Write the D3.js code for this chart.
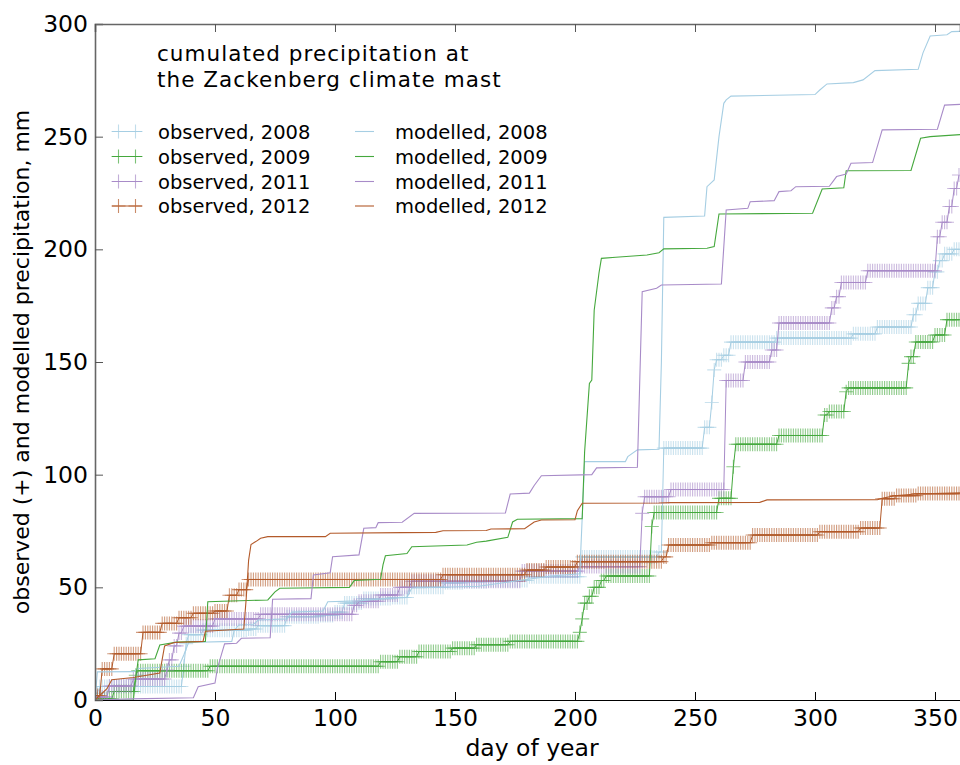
<!DOCTYPE html>
<html><head><meta charset="utf-8">
<script src="https://cdn.jsdelivr.net/npm/d3@7"></script>
<style>body{margin:0;background:#fff}svg{display:block;font-family:"DejaVu Sans",sans-serif}</style>
</head><body><svg id="c" width="960" height="765"></svg>
<script>
const xTicks=[0,50,100,150,200,250,300,350];
const yTicks=[0,50,100,150,200,250,300];
const years=["2008","2009","2011","2012"];
const colors=["#a6cee3","#45a83d","#a88bc8","#b35a2a"];
const titleLines=["cumulated precipitation at","the Zackenberg climate mast"];

// observed daily cumulated precipitation (mm), index = day of year
const obs2008=[
3,3,6,6,6,6,6,6,6,6,
6,6,6,6,6,6,6,6,6,6,
6,6,6,6,6,6,6,6,6,6,
6,6,6,6,6,6,6,15,25,29,
29,29,29,29,29,31,31,31,31,31,
31,31,31,31,31,31,31,31,31,31,
31,31,31,31,31.5,31.5,31.5,31.5,33,33,
33,33,33,33,33,33,33,33,33,33,
37,37,37,37,37,37,37,37,37,37,
37,37,37,37,37.5,37.5,37.5,37.5,37.5,37.5,
39,39,39,39,43,43,43,43,43,43,
43,43,45,45,45,45,45,45,45,45,
45,45,45,45,45.5,45.5,45.5,45.5,45.5,45.5,
45.5,50,50,50,50,50,50,50,50,50,
50,50,50,50,50,50,52,52,52,52,
52,52,52,52,52.5,52.5,52.5,52.5,52.5,52.5,
52.5,52.5,52.5,52.5,53,53,53,53,53,53,
53,53,53,53,53,53,53,53,53,53,
53,54.7,54.7,54.7,54.7,54.7,54.7,54.7,54.7,54.7,
54.7,54.7,54.7,54.7,54.7,54.7,54.7,54.7,54.7,54.7,
54.7,54.7,54.7,63.5,63.5,63.5,63.5,63.5,63.5,63.5,
63.5,63.5,63.5,63.5,63.5,63.5,63.5,63.5,63.5,63.5,
63.5,63.5,63.5,63.5,63.5,63.5,63.5,63.5,63.5,63.5,
63.5,63.5,63.5,63.5,63.5,65.7,65.7,111.8,111.8,111.8,
111.8,111.8,111.8,111.8,111.8,111.8,111.8,111.8,111.8,111.8,
111.8,111.8,111.8,111.8,121,121,121,132,146.5,151,
151,151,153,153,153,158.8,158.8,158.8,158.8,158.8,
158.8,158.8,158.8,158.8,158.8,158.8,158.8,158.8,158.8,158.8,
158.8,158.8,158.8,158.8,160.6,160.6,160.6,160.6,160.6,160.6,
160.6,160.6,160.6,160.6,160.6,160.6,160.6,160.6,160.6,160.6,
160.6,160.6,160.6,160.6,160.6,160.6,160.6,160.6,160.6,160.6,
160.6,160.6,160.6,160.6,160.6,160.6,162.5,162.5,162.5,162.5,
162.5,162.5,162.5,162.5,162.5,162.5,165.5,165.5,165.5,165.5,
165.5,165.5,165.5,165.5,165.5,165.5,165.5,165.5,165.5,165.5,
165.5,171,171,176,176,176,176,183,183,183,
190,190,195,195,198,198,198,198,200,200,
200];
const obs2009=[
0.5,0.5,0.5,0.5,0.5,0.5,0.5,0.5,3.8,3.8,
3.8,3.8,3.8,3.8,3.8,3.8,3.8,11,13,13,
13,13,13,13,13,13,13,13,13,13,
13,13,13,13,13,13,13,13,13,13,
13,13,13,13,13,13,13,13,15,15,
15,15,15,15,15,15,15,15,15,15,
15,15,15,15,15,15,15,15,15,15,
15,15,15,15,15,15,15,15,15,15,
15,15,15,15,15,15,15,15,15,15,
15,15,15,15,15,15,15,15,15,15,
15,15,15,15,15,15,15,15,15,15,
15,15,15,15,15,15,15,15,15,17,
17,17,17,17,17,17,17,19.2,19.2,19.2,
19.2,19.2,19.2,19.2,19.2,21.5,21.5,21.5,21.5,21.5,
21.5,21.5,21.5,21.5,21.5,21.5,21.5,21.5,21.5,23,
23,23,23,23,23,23,23,23,23,24.5,
24.5,24.5,24.5,24.5,24.5,24.5,24.5,24.5,24.5,24.5,
24.5,24.5,24.5,26,26,26,26,26,26,26,
26,26,26,26,26,26,26,26,26,26,
26,26,26,26,26,26,26,26,26,26,
26,26,30,36,43,43,46,46,50,50,
50,53,53,55,55,55,55,55,55,55,
55,55,55,55,55,55,55,55,55,55,
55,55,77,83.2,83.2,83.2,83.2,83.2,83.2,83.2,
83.2,83.2,83.2,83.2,83.2,83.2,83.2,83.2,83.2,83.2,
83.2,83.2,83.2,83.2,83.2,83.2,83.2,83.2,83.2,83.2,
89.5,89.5,89.5,89.5,89.5,89.5,103.5,113.5,113.5,113.5,
113.5,113.5,113.5,113.5,113.5,113.5,113.5,113.5,113.5,113.5,
113.5,113.5,113.5,113.5,113.5,117.4,117.4,117.4,117.4,117.4,
117.4,117.4,117.4,117.4,117.4,117.4,117.4,117.4,117.4,117.4,
117.4,117.4,117.4,117.4,126.5,126.5,128,128,128,128,
128,128,128,136.8,138.5,138.5,138.5,138.5,138.5,138.5,
138.5,138.5,138.5,138.5,138.5,138.5,138.5,138.5,138.5,138.5,
138.5,138.5,138.5,138.5,138.5,138.5,138.5,138.5,138.5,149.4,
152.4,152.4,158.9,158.9,158.9,158.9,158.9,158.9,158.9,158.9,
162,162,162,162,162,168.8,168.8,168.8,168.8,168.8,
168.8];
const obs2011=[
1.3,1.3,1.3,1.3,1.3,1.3,6.2,6.2,6.2,6.2,
6.2,6.2,6.2,6.2,6.2,6.2,9.3,9.3,9.3,9.3,
9.3,9.3,9.3,9.3,9.3,9.3,9.3,9.3,9.3,9.3,
13.3,17.8,17.8,24,24,29.7,29.7,32.8,32.8,32.8,
32.8,32.8,32.8,32.8,32.8,32.8,32.8,32.8,32.8,32.8,
36,36,36,36,36,36,36,36,36,36,
36,36,36,36,36,36,36,36,36,38,
38,38,38,38,38,38,38,38,38,38,
38,38,38,38,38,38,38,38,38,38,
38,38,38,38,38,38,38,38,38,38,
38,38,38,38,38,38,38,38,42,42,
43.8,43.8,43.8,43.8,43.8,43.8,43.8,43.8,43.8,46.6,
46.6,46.6,46.6,46.6,46.6,46.6,46.6,50,50,50,
50,50,52.7,52.7,52.7,52.7,52.7,52.7,52.7,52.7,
52.7,52.7,52.7,52.7,52.7,52.7,52.7,52.7,52.7,52.7,
52.7,52.7,52.7,52.7,52.7,52.7,52.7,52.7,52.7,52.7,
52.7,52.7,52.7,52.7,52.7,52.7,52.7,52.7,52.7,52.7,
52.7,52.7,52.7,52.7,52.7,52.7,52.7,52.7,57.2,57.2,
57.2,57.2,57.2,57.2,57.2,57.2,57.2,57.2,57.2,57.2,
57.2,57.2,57.2,57.2,57.2,57.2,57.2,57.2,57.2,57.2,
57.2,57.2,59.2,59.2,59.2,59.2,59.2,59.2,59.2,59.2,
59.2,59.2,59.2,59.2,59.2,59.2,59.2,59.2,59.2,59.2,
59.2,59.2,59.2,59.2,59.2,59.2,59.2,59.2,82.8,90.2,
90.2,90.2,90.2,90.2,90.2,90.2,90.2,90.2,90.2,90.2,
93.4,93.4,93.4,93.4,93.4,93.4,93.4,93.4,93.4,93.4,
93.4,93.4,93.4,93.4,93.4,93.4,93.4,93.4,93.4,93.4,
93.4,93.4,93.4,141.8,141.8,141.8,141.8,141.8,141.8,141.8,
141.8,150,150,150,150,150,150,150,150,150,
150,150,155.3,155.3,155.3,167.3,167.3,167.3,167.3,167.3,
167.3,167.3,167.3,167.3,167.3,167.3,167.3,167.3,167.3,167.3,
167.3,167.3,167.3,167.3,167.3,167.3,167.3,174,174,179,
179,185.3,185.3,185.3,185.3,185.3,185.3,185.3,185.3,185.3,
185.3,185.3,190.5,190.5,190.5,190.5,190.5,190.5,190.5,190.5,
190.5,190.5,190.5,190.5,190.5,190.5,190.5,190.5,190.5,190.5,
190.5,190.5,190.5,190.5,190.5,190.5,190.5,190.5,190.5,190.5,
190.5,205.6,205.6,212,212,212,219,219,227,227,
233];
const obs2012=[
2,2,2,13.8,13.8,13.8,13.8,13.8,20.5,20.5,
20.5,20.5,20.5,20.5,20.5,20.5,20.5,20.5,20.5,20.5,
30,30,30,30,30,30,30,30,34,34,
34,34,34,34,34,36.5,36.5,36.5,36.5,36.5,
36.5,38.5,38.5,38.5,38.5,38.5,38.5,38.5,38.5,38.5,
39.5,39.5,39.5,39.5,39.5,39.5,46.5,46.5,46.5,46.5,
49,49,49,49,53.5,53.5,53.5,53.5,53.5,53.5,
53.5,53.5,53.5,53.5,53.5,53.5,53.5,53.5,53.5,53.5,
53.5,53.5,53.5,53.5,53.5,53.5,53.5,53.5,53.5,53.5,
53.5,53.5,53.5,53.5,53.5,53.5,53.5,53.5,53.5,53.5,
53.5,53.5,53.5,53.5,53.5,53.5,53.5,53.5,53.5,53.5,
53.5,53.5,53.5,53.5,53.5,53.5,53.5,53.5,53.5,53.5,
53.5,53.5,53.5,53.5,53.5,53.5,53.5,53.5,53.5,53.5,
53.5,53.5,53.5,53.5,53.5,53.5,53.5,53.5,53.5,53.5,
53.5,53.5,53.5,53.5,53.5,55.6,55.6,55.6,55.6,55.6,
55.6,55.6,55.6,55.6,55.6,55.6,55.6,55.6,55.6,55.6,
55.6,55.6,55.6,55.6,55.6,55.6,55.6,55.6,55.6,55.6,
55.6,55.6,55.6,55.6,55.6,55.6,55.6,55.6,55.6,55.6,
57.7,57.7,57.7,57.7,57.7,57.7,57.7,57.7,59,59,
59,59,59,59,59,59,59,59,59,59,
59,61.4,61.4,61.4,61.4,61.4,61.4,61.4,61.4,61.4,
61.4,61.4,61.4,61.4,61.4,61.4,61.4,61.4,61.4,61.4,
61.4,61.4,61.4,61.4,61.4,61.4,61.4,61.4,61.4,61.4,
61.4,61.4,61.4,61.4,61.4,61.4,61.4,63.5,63.5,68.8,
68.8,68.8,68.8,68.8,68.8,68.8,68.8,68.8,68.8,68.8,
68.8,68.8,68.8,68.8,68.8,68.8,68.8,69.8,69.8,69.8,
69.8,69.8,69.8,69.8,69.8,69.8,69.8,69.8,69.8,69.8,
69.8,69.8,69.8,69.8,73.2,73.2,73.2,73.2,73.2,73.2,
73.2,73.2,73.2,73.2,73.2,73.2,73.2,73.2,73.2,73.2,
73.2,73.2,73.2,73.2,73.2,73.2,73.2,73.2,73.2,73.2,
73.2,73.2,74.7,74.7,74.7,74.7,74.7,74.7,74.7,74.7,
74.7,74.7,74.7,74.7,74.7,74.7,74.7,74.7,74.7,76.3,
76.3,76.3,76.3,76.3,76.3,76.3,76.3,76.3,89.3,89.3,
89.3,89.3,89.3,89.3,90.7,90.7,90.7,90.7,90.7,90.7,
90.7,90.7,90.7,91.6,91.6,91.6,91.6,91.6,91.6,91.6,
91.6,91.6,91.6,91.6,91.6,91.6,91.6,91.6,91.6,91.6,
91.6];

// modelled cumulated precipitation: [day, mm]
const mod2008=[[0,0],[1,12.5],[16,12.6],[18,14],[35,15],[37,20],[39,25.5],[57,26],[58,31],[60,33.3],[66,33.5],[68,35.5],[80,36],[82,39],[95,39.5],[97,43.6],[110,44],[120,45],[130,45.5],[132,49.7],[160,50.5],[170,52],[190,55],[202,56],[204,105.8],[221,105.8],[222,108],[226,111],[235,111.3],[236,150],[237,214.2],[254,214.8],[255,227.8],[258,230.8],[260,250],[262,264.8],[263,266.3],[265,268],[300,268.7],[302,270.7],[305,273.4],[316,274],[320,275.2],[325,279.3],[343,279.9],[345,287.2],[348,294.7],[355,295.2],[357,296.6],[362,296.8]];
const mod2009=[[0,0],[16,0],[17,10],[18,17.8],[25,18.3],[27,24.4],[34,25.7],[46,26],[47,43.6],[72,44.4],[75,48],[77,49.6],[106,50],[108,53],[119,53.6],[120,60],[121,64],[130,65],[132,68],[155,68.8],[159,70],[163,70.5],[172,72.2],[174,79],[176,80.2],[203,80.5],[204,110],[206,140.5],[207,142],[208,173],[210,189.5],[211,196],[217,196.5],[230,197.5],[235,198.5],[237,200.2],[255,200.5],[258,201.2],[260,215.7],[299,216],[303,226.8],[312,227.3],[313,234.9],[340,235],[344,249.3],[348,250],[362,251]];
const mod2011=[[0,0],[15,0.5],[41,1],[43,5.9],[50,7.5],[51,14],[53,21.4],[54,24.9],[59,25.2],[61,27.4],[73,27.6],[74,44.7],[90,45],[91,55.5],[98,56.5],[99,63.6],[110,64.4],[112,76.2],[117,76.5],[118,78.7],[128,78.9],[133,82.8],[171,83],[173,91.4],[181,91.8],[183,95.2],[186,99.5],[207,100],[209,103],[226,103.3],[228,181.2],[234,182.7],[236,184.2],[261,184.6],[263,217.5],[272,218.2],[273,221.1],[283,221.6],[285,225.6],[290,226],[292,227.8],[306,228],[309,232.3],[313,233.4],[315,238.2],[324,238.5],[328,253],[351,253.3],[354,264],[362,264.4]];
const mod2012=[[0,0],[1,1],[5,5],[7,9],[16,10],[27,12],[28,18],[29,24],[33,25.5],[45,26],[46,30.5],[62,31.5],[63,45],[64,62],[65,69],[67,70.3],[69,71.8],[72,72.5],[96,72.5],[98,74],[128,74.3],[142,74.4],[145,75.1],[163,75.2],[165,75.9],[179,76],[183,79],[186,79.9],[200,80],[201,84],[203,87.3],[235,87.4],[240,87.6],[277,87.7],[280,88.8],[326,88.9],[328,89.5],[333,90.6],[342,91.4],[362,92]];

const observed=[obs2008,obs2009,obs2011,obs2012];
const modelled=[mod2008,mod2009,mod2011,mod2012];

const L=95,T=24,R=960,B=700;
const x=d3.scaleLinear().domain([0,360.42]).range([L,R]);
const y=d3.scaleLinear().domain([0,300]).range([B,T]);
const svg=d3.select("#c");

svg.append("defs").append("clipPath").attr("id","clip")
  .append("rect").attr("x",L).attr("y",T).attr("width",R-L).attr("height",B-T);

const plot=svg.append("g").attr("clip-path","url(#clip)");
const line=d3.line().x(d=>x(d[0])).y(d=>y(d[1]));
const ms=7;
function plus(cx,cy){return `M${cx-ms},${cy}h${2*ms}M${cx},${cy-ms}v${2*ms}`;}

observed.forEach((arr,k)=>{
  const pts=arr.map((v,i)=>[i,v]);
  const gg=plot.append("g");
  gg.append("path").attr("d",line(pts)).attr("fill","none")
    .attr("stroke",colors[k]).attr("stroke-width",1);
  gg.selectAll("path.m").data(pts).join("path").attr("class","m")
    .attr("d",d=>plus(x(d[0]),y(d[1])))
    .attr("fill","none").attr("stroke",colors[k])
    .attr("stroke-width",1.1).attr("stroke-opacity",0.6);
});
modelled.forEach((arr,k)=>{
  plot.append("path").attr("d",line(arr)).attr("fill","none")
    .attr("stroke",colors[k]).attr("stroke-width",1.1);
});

// axes
const fs="23.5px";
const ax=svg.append("g").attr("transform",`translate(0,${B})`)
  .call(d3.axisBottom(x).tickValues(xTicks).tickSize(-8).tickPadding(9).tickFormat(d3.format("d")));
ax.select(".domain").attr("stroke","#000");
ax.selectAll("text").attr("font-size",fs).attr("fill","#000").attr("font-family","DejaVu Sans");
const ay=svg.append("g").attr("transform",`translate(${L},0)`)
  .call(d3.axisLeft(y).tickValues(yTicks).tickSize(-8).tickPadding(7).tickFormat(d3.format("d")));
ay.select(".domain").attr("stroke","#666").attr("stroke-width",1.6);
ay.selectAll(".tick line").attr("stroke","#555");
ay.selectAll("text").attr("font-size",fs).attr("fill","#000").attr("font-family","DejaVu Sans");
const at=svg.append("g").attr("transform",`translate(0,${T})`)
  .call(d3.axisTop(x).tickValues(xTicks).tickSize(-8).tickFormat(""));
at.select(".domain").attr("stroke","#666").attr("stroke-width",1.6);
at.selectAll(".tick line").attr("stroke","#555");

svg.append("text").attr("x",532).attr("y",756).attr("text-anchor","middle")
  .attr("font-size","23.5px").text("day of year");
svg.append("text").attr("transform",`translate(29,${(T+B)/2}) rotate(-90)`)
  .attr("text-anchor","middle").attr("font-size","22px")
  .text("observed (+) and modelled precipitation, mm");

// title (two lines)
titleLines.forEach((t,i)=>svg.append("text").attr("x",157).attr("y",61+i*25.5)
  .attr("font-size","21.5px").attr("letter-spacing","1.05px").text(t));

// legend
const rowY=[131.5,156.5,181.5,206];
years.forEach((yr,k)=>{
  const yy=rowY[k];
  svg.append("path").attr("d",`M112,${yy}H142`).attr("stroke",colors[k]).attr("stroke-width",1);
  [118.5,135.5].forEach(cx=>svg.append("path").attr("d",plus(cx,yy))
    .attr("fill","none").attr("stroke",colors[k]).attr("stroke-width",1.1).attr("stroke-opacity",0.7));
  svg.append("text").attr("x",158).attr("y",yy+7).attr("font-size","19.5px").text("observed, "+yr);
  svg.append("path").attr("d",`M355,${yy}H374`).attr("stroke",colors[k]).attr("stroke-width",1.1);
  svg.append("text").attr("x",395).attr("y",yy+7).attr("font-size","19.5px").text("modelled, "+yr);
});
</script></body></html>
